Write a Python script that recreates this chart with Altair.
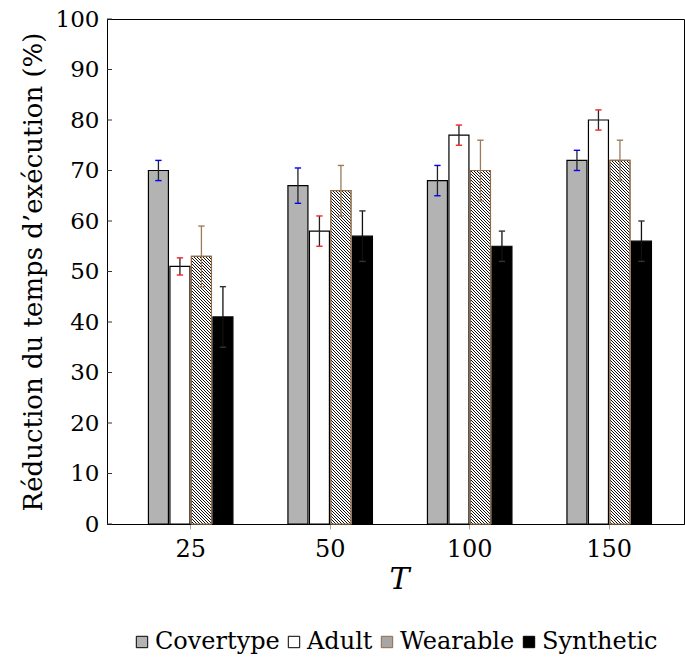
import altair as alt
import pandas as pd

# ---- data ----
groups = ["25", "50", "100", "150"]
series = ["Covertype", "Adult", "Wearable", "Synthetic"]
covertype = [70, 67, 68, 72]
covertype_err = [2, 3.5, 3, 2]
adult = [51, 58, 77, 80]
adult_err = [1.7, 3, 2, 2]
wearable = [53, 66, 70, 72]
wearable_err = [6, 5, 6, 4]
synthetic = [41, 57, 55, 56]
synthetic_err = [6, 5, 3, 4]
y_ticks = list(range(0, 101, 10))

# ---- styles ----
FONT = "DejaVu Serif"
BROWN = "#8f6a45"
fill_range = ["#b3b3b3", "#ffffff", "#a6a6a6", "#000000"]
stroke_range = ["#000000", "#000000", BROWN, "#000000"]
line_color = {"Covertype": "#222222", "Adult": "#222222", "Wearable": "#9c7b5a", "Synthetic": "#111111"}
cap_color = {"Covertype": "#0000ff", "Adult": "#ff2020", "Wearable": "#9c7b5a", "Synthetic": "#333333"}

W, H = 577, 505
table = {"Covertype": (covertype, covertype_err), "Adult": (adult, adult_err),
         "Wearable": (wearable, wearable_err), "Synthetic": (synthetic, synthetic_err)}
rows = []
for s in series:
    vals, errs = table[s]
    for g, v, e in zip(groups, vals, errs):
        rows.append({"T": g, "serie": s, "val": v, "lo": v - e, "hi": v + e,
                     "lc": line_color[s], "cc": cap_color[s]})
df = pd.DataFrame(rows)

yscale = alt.Scale(domain=[0, 100], nice=False, zero=True)
xscale = alt.Scale(domain=groups, paddingInner=0, paddingOuter=0.068, align=0.734)
oscale = alt.Scale(domain=series, paddingInner=0.0698, paddingOuter=0, range=[27.5, 112.0])

YTITLE = "Réduction du temps d’exécution (%)"
yaxis = alt.Axis(values=y_ticks, ticks=False, grid=False, domainColor="black",
                 labelFont=FONT, labelFontSize=23, labelColor="black", labelPadding=8,
                 title=YTITLE, titleFont=FONT, titleFontSize=26, titleFontWeight="normal",
                 titleColor="black", titlePadding=9)
xaxis = alt.Axis(labelAngle=0, ticks=True, tickSize=5, tickColor="#aaaaaa", domainColor="black",
                 labelFont=FONT, labelFontSize=24, labelColor="black", labelPadding=8,
                 title="T", titleFont=FONT, titleFontSize=30, titleFontStyle="italic",
                 titleFontWeight="normal", titleColor="black", titleX=292, titleY=64,
                 titleBaseline="alphabetic")

X = alt.X("T:N", scale=xscale, axis=xaxis)
XO = alt.XOffset("serie:N", scale=oscale)

legend = alt.Legend(orient="none", legendX=23, legendY=611, direction="horizontal", columns=4,
                    title=None, symbolType="square", symbolSize=130, symbolStrokeWidth=1,
                    labelFont=FONT, labelFontSize=24, labelColor="black", labelOffset=1,
                    columnPadding=2, padding=0)

base = alt.Chart(df)

bars = base.mark_bar(strokeWidth=1.2).encode(
    x=X, xOffset=XO,
    y=alt.Y("val:Q", scale=yscale, axis=yaxis, stack=None),
    fill=alt.Fill("serie:N", scale=alt.Scale(domain=series, range=fill_range), legend=legend),
    stroke=alt.Stroke("serie:N", scale=alt.Scale(domain=series, range=stroke_range), legend=legend),
)


def hatch(h, w=20.0, period=3.0, dark=0.45):
    n = (w + h) / period
    k = (w + h) / (w * w + h * h)
    stops = []
    i = 0
    while i / n < 1:
        a = i / n
        b = min((i + 1 - dark) / n, 1)
        c = min((i + 1) / n, 1)
        stops += [alt.GradientStop(offset=a, color="#ffffff"),
                  alt.GradientStop(offset=b, color="#ffffff"),
                  alt.GradientStop(offset=b, color="#111111"),
                  alt.GradientStop(offset=c, color="#111111")]
        i += 1
    return alt.LinearGradient(gradient="linear", x1=0, y1=1, x2=k * w, y2=1 - k * h, stops=stops)


hatch_layers = []
for g, v in zip(groups, wearable):
    hpx = v / 100 * H
    hatch_layers.append(
        base.transform_filter((alt.datum.serie == "Wearable") & (alt.datum.T == g))
        .mark_bar(fill=hatch(hpx), stroke=BROWN, strokeWidth=1.2)
        .encode(x=X, xOffset=XO, y=alt.Y("val:Q", scale=yscale, axis=yaxis, stack=None))
    )

err = base.mark_rule(strokeWidth=1.3).encode(
    x=X, xOffset=XO,
    y=alt.Y("lo:Q", scale=yscale, axis=yaxis), y2="hi:Q",
    color=alt.Color("lc:N", scale=None),
)
cap_lo = base.mark_point(shape="M-1,0L1,0", size=40, filled=False, strokeWidth=1.4, opacity=1).encode(
    x=X, xOffset=XO, y=alt.Y("lo:Q", scale=yscale, axis=yaxis),
    color=alt.Color("cc:N", scale=None),
)
cap_hi = base.mark_point(shape="M-1,0L1,0", size=40, filled=False, strokeWidth=1.4, opacity=1).encode(
    x=X, xOffset=XO, y=alt.Y("hi:Q", scale=yscale, axis=yaxis),
    color=alt.Color("cc:N", scale=None),
)

tick_df = pd.DataFrame({"v": y_ticks})
inticks = alt.Chart(tick_df).mark_rule(color="#333333", strokeWidth=1).encode(
    y=alt.Y("v:Q", scale=yscale, axis=yaxis),
    x=alt.value(0), x2=alt.value(5),
)

chart = alt.layer(bars, *hatch_layers, err, cap_lo, cap_hi, inticks).properties(
    width=W, height=H,
    autosize=alt.AutoSizeParams(type="none"),
    padding={"left": 107, "top": 19, "right": 1, "bottom": 138},
    background="white",
).configure_view(stroke="black", strokeWidth=1)

chart.save("out.html", embed_options={"renderer": "svg", "actions": False})
